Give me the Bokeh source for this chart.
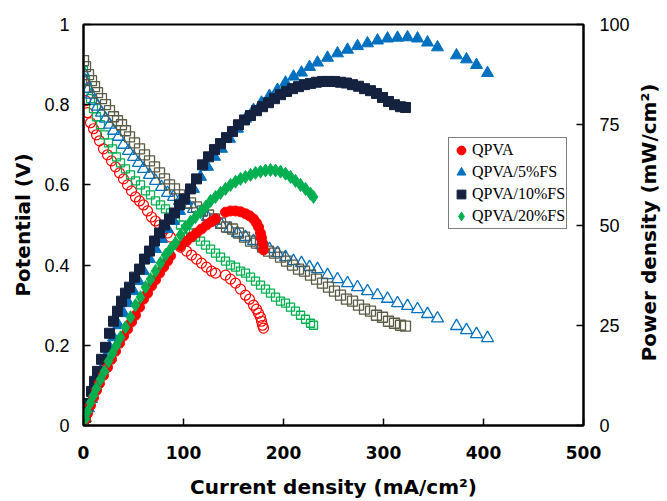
import math
from bokeh.plotting import figure
from bokeh.models import Range1d, LinearAxis, FixedTicker, Legend, LegendItem, Label
from bokeh.embed import file_html
from bokeh.resources import INLINE

# ---------------- data ----------------
# QPVA
qpva_i = [0, 2, 4, 7, 10, 13, 16, 20, 24, 28, 32, 36, 40, 44, 48, 52, 56, 60, 64, 68, 72, 76, 80, 84, 87,
          97, 103, 108, 113, 118, 123, 128, 132, 142, 147, 152, 157, 162, 166, 170, 173, 175, 177, 178, 179, 180]
qpva_v = [0.86, 0.81, 0.78, 0.755, 0.74, 0.725, 0.71, 0.69, 0.675, 0.66, 0.645, 0.63, 0.615, 0.60, 0.585, 0.57,
          0.56, 0.55, 0.535, 0.52, 0.51, 0.50, 0.49, 0.48, 0.47, 0.445, 0.435, 0.425, 0.415, 0.405, 0.395, 0.385,
          0.38, 0.375, 0.365, 0.355, 0.34, 0.325, 0.315, 0.30, 0.29, 0.28, 0.27, 0.26, 0.25, 0.243]
qpva_p = [0, 1.5, 3, 5, 7, 8.8, 10.5, 12.5, 14.5, 16.5, 18.5, 20.5, 22.3, 24, 25.8, 27.5, 29.5, 31.5, 33, 34.8,
          36.3, 38, 39.5, 41, 42.3, 44.8, 46, 47, 48, 49, 50, 50.8, 51.5, 53.2, 53.5, 53.5, 53.3, 52.8, 52.3,
          51.5, 50.5, 49.5, 48, 46.8, 45.5, 43.8]

# QPVA/5%FS
fs5_i = [0, 2, 5, 8, 11, 14, 18, 22, 26, 30, 35, 40, 45, 50, 55, 60, 66, 72, 78, 84, 90, 96, 103, 110, 117,
         124, 131, 138, 146, 154, 162, 170, 178, 186, 194, 202, 210, 218, 226, 234, 244, 254, 264, 274, 284,
         294, 304, 314, 324, 334, 344, 354, 373, 383, 393, 404]
fs5_v = [0.88, 0.86, 0.84, 0.825, 0.81, 0.795, 0.78, 0.765, 0.75, 0.735, 0.72, 0.70, 0.685, 0.67, 0.655, 0.64,
         0.625, 0.61, 0.595, 0.58, 0.57, 0.56, 0.55, 0.54, 0.53, 0.52, 0.51, 0.50, 0.49, 0.48, 0.47, 0.46,
         0.45, 0.44, 0.43, 0.42, 0.41, 0.405, 0.395, 0.39, 0.375, 0.365, 0.355, 0.345, 0.335, 0.325, 0.316,
         0.305, 0.298, 0.29, 0.278, 0.267, 0.248, 0.238, 0.228, 0.218]
fs5_p = [0, 1.8, 4.3, 6.6, 9, 11, 14, 17, 19.5, 22, 25, 28, 30.5, 33.5, 36, 38.5, 41.5, 44, 46.5, 49, 51, 53.5,
         56, 59, 62, 64.5, 67, 69, 71.5, 74, 76.5, 78.7, 80.5, 82.2, 83.7, 85.5, 87, 88, 89.4, 90.5, 91.7,
         92.8, 93.7, 94.6, 95.3, 96, 96.5, 96.7, 96.8, 96.5, 95.5, 94.3, 92.3, 91.3, 89.9, 87.9]

# QPVA/10%FS
fs10_i = [0, 2, 5, 8, 11, 14, 18, 22, 26, 30, 34, 38, 42, 46, 51, 56, 61, 66, 71, 76, 81, 86, 91, 96, 101, 107,
          113, 119, 125, 131, 137, 143, 149, 155, 161, 167, 173, 179, 185, 191, 197, 203, 209, 215, 221, 227,
          233, 239, 245, 251, 257, 263, 269, 275, 281, 287, 293, 299, 305, 311, 317, 322]
fs10_v = [0.91, 0.895, 0.875, 0.86, 0.845, 0.83, 0.815, 0.80, 0.785, 0.77, 0.76, 0.75, 0.735, 0.72, 0.705, 0.69,
          0.675, 0.66, 0.645, 0.63, 0.615, 0.60, 0.59, 0.575, 0.565, 0.555, 0.545, 0.535, 0.525, 0.515, 0.505,
          0.495, 0.49, 0.48, 0.47, 0.46, 0.455, 0.445, 0.435, 0.43, 0.42, 0.41, 0.40, 0.39, 0.385, 0.375,
          0.365, 0.355, 0.345, 0.335, 0.325, 0.315, 0.31, 0.30, 0.29, 0.285, 0.275, 0.27, 0.26, 0.255, 0.25,
          0.248]
fs10_p = [0, 2, 5.5, 8.5, 11, 13.5, 16.5, 19.5, 23, 26, 28.5, 31, 33, 34.5, 37, 39, 41.5, 43.5, 46, 48, 50, 51.5,
          53, 55, 56.5, 59, 61.5, 65, 67, 68.8, 70.3, 71.8, 73.3, 75, 76.2, 77.3, 78.5, 79.5, 80.5, 81.5, 82.5,
          83.3, 84, 84.5, 85, 85.3, 85.6, 85.8, 85.8, 85.8, 85.6, 85.4, 85, 84.6, 84, 83.5, 82.8, 81.8, 80.8,
          80, 79.5, 79.3]

# QPVA/20%FS
fs20_i = [0, 2, 4, 7, 10, 13, 17, 21, 25, 29, 33, 37, 42, 47, 52, 57, 62, 67, 72, 77, 82, 87, 92, 97, 102, 107,
          112, 117, 122, 127, 132, 137, 142, 147, 152, 157, 162, 167, 172, 177, 182, 187, 192, 197, 202, 207,
          212, 217, 222, 227, 230]
fs20_v = [0.885, 0.86, 0.84, 0.815, 0.79, 0.77, 0.75, 0.725, 0.705, 0.69, 0.67, 0.655, 0.64, 0.625, 0.61, 0.60,
          0.585, 0.575, 0.56, 0.55, 0.54, 0.53, 0.515, 0.50, 0.49, 0.48, 0.47, 0.46, 0.45, 0.44, 0.43, 0.42,
          0.41, 0.40, 0.395, 0.385, 0.38, 0.37, 0.36, 0.35, 0.34, 0.33, 0.32, 0.31, 0.305, 0.295, 0.285, 0.275,
          0.265, 0.255, 0.25]
fs20_p = [0, 1.7, 3.4, 5.7, 7.5, 9.3, 11.5, 13.5, 16, 18, 20, 22, 24.5, 27, 30, 32, 34.5, 36.5, 38.5, 40.5, 42.5,
          44, 45.5, 47.5, 49.5, 50.8, 52, 53.2, 54.5, 56, 57, 58, 59, 60, 60.8, 61.5, 62, 62.5, 63, 63.3, 63.6,
          63.7, 63.6, 63.3, 62.8, 62, 61, 60, 59, 57.8, 57]

x_ticks = [0, 100, 200, 300, 400, 500]
v_ticks = [0, 0.2, 0.4, 0.6, 0.8, 1.0]
v_tick_labels = ["0", "0.2", "0.4", "0.6", "0.8", "1"]
p_ticks = [0, 25, 50, 75, 100]

series_names = ["QPVA", "QPVA/5%FS", "QPVA/10%FS", "QPVA/20%FS"]
x_title = "Current density (mA/cm²)"
v_title = "Potential (V)"
p_title = "Power density (mW/cm²)"

# ---------------- figure ----------------
p = figure(width=667, height=501, output_backend="svg", toolbar_location=None,
           x_range=Range1d(0, 500), y_range=Range1d(0, 1),
           min_border_left=83, min_border_right=84, min_border_top=24, min_border_bottom=73,
           background_fill_color="white", border_fill_color="white")
p.extra_y_ranges = {"power": Range1d(0, 100)}
p.grid.visible = False
p.outline_line_color = "black"
p.outline_line_width = 2

RED = "#FF0000"
BLUE = "#0070C0"
NAVY = "#14223F"
GREEN = "#00B050"
GRAY = "#5A5A46"

# polarization (open markers, left axis)
p.scatter(qpva_i, qpva_v, marker="circle", size=10, fill_color=None, line_color=RED, line_width=1.2)
p.scatter(fs20_i, fs20_v, marker="square", size=8, fill_color=None, line_color=GREEN, line_width=1.3)
p.scatter(fs5_i, fs5_v, marker="triangle", size=12, fill_color=None, line_color=BLUE, line_width=1.3)
p.scatter(fs10_i, fs10_v, marker="square", size=10, fill_color=None, line_color=GRAY, line_width=1.3)

# power density (filled markers, right axis)
r_b = p.scatter(fs5_i, fs5_p, marker="triangle", size=12, color=BLUE, y_range_name="power")
r_n = p.scatter(fs10_i, fs10_p, marker="square", size=10, color=NAVY, y_range_name="power")
r_r = p.scatter(qpva_i, qpva_p, marker="circle", size=10, color=RED, y_range_name="power")
r_g = p.scatter(fs20_i, fs20_p, marker="diamond", size=13, color=GREEN, y_range_name="power")

# axes
ax = p.xaxis[0]
ax.ticker = FixedTicker(ticks=x_ticks)
ax.axis_label = x_title

ay = p.yaxis[0]
ay.ticker = FixedTicker(ticks=v_ticks)
ay.major_label_overrides = {t: s for t, s in zip(v_ticks, v_tick_labels)}
ay.axis_label = v_title

ar = LinearAxis(y_range_name="power", ticker=FixedTicker(ticks=p_ticks))
p.add_layout(ar, "right")

for a in (ax, ay, ar):
    a.axis_line_color = "black"
    a.axis_line_width = 2
    a.major_tick_in = 7
    a.major_tick_out = 0
    a.major_tick_line_color = "black"
    a.major_tick_line_width = 1.5
    a.minor_tick_line_color = None
    a.axis_label_text_font = "DejaVu Sans"
    a.axis_label_text_font_style = "bold"
    a.axis_label_text_font_size = "20px"
    a.axis_label_text_color = "black"
    a.major_label_text_color = "black"

ax.major_label_text_font = "DejaVu Sans"
ax.major_label_text_font_style = "bold"
ax.major_label_text_font_size = "17px"
ax.major_label_standoff = 20
ax.axis_label_standoff = 13

for a in (ay, ar):
    a.major_label_text_font = "Liberation Sans"
    a.major_label_text_font_style = "normal"
    a.major_label_text_font_size = "18px"
ay.major_label_standoff = 14
ay.axis_label_standoff = 6
ar.major_label_standoff = 16

# right-hand axis title, reading bottom-to-top as in the reference
p.add_layout(Label(x=16, y=203, x_units="screen", y_units="screen", text=p_title,
                   angle=math.pi / 2, text_align="center", text_baseline="middle",
                   text_font="DejaVu Sans", text_font_style="bold", text_font_size="20px",
                   text_color="black"), "right")

legend = Legend(items=[LegendItem(label=series_names[0], renderers=[r_r]),
                       LegendItem(label=series_names[1], renderers=[r_b]),
                       LegendItem(label=series_names[2], renderers=[r_n]),
                       LegendItem(label=series_names[3], renderers=[r_g])],
                location=(365, 196))
legend.label_text_font = "Liberation Serif"
legend.label_text_font_size = "16px"
legend.label_text_color = "black"
legend.glyph_width = 22
legend.glyph_height = 22
legend.label_height = 22
legend.label_standoff = 0
legend.spacing = 0
legend.padding = 1
legend.margin = 0
legend.border_line_color = "black"
legend.border_line_width = 1
legend.background_fill_color = "white"
p.add_layout(legend, "center")

open("out.html", "w").write(file_html(p, INLINE))
